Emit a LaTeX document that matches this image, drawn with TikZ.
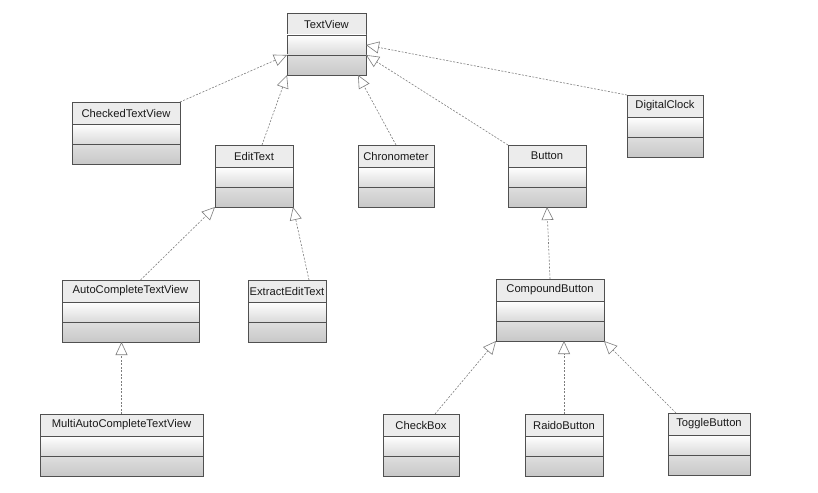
\documentclass[tikz,border=0pt]{standalone}
\usepackage{fontspec}
\setmainfont{Liberation Sans}
\usetikzlibrary{arrows.meta, positioning}
\definecolor{boxgray}{RGB}{80,80,80}
\definecolor{headfill}{RGB}{236,236,236}
\definecolor{midgray}{RGB}{218,218,218}
\definecolor{lowtop}{RGB}{222,222,222}
\definecolor{lowgray}{RGB}{200,200,200}
\definecolor{linegray}{RGB}{125,125,125}

% one class box: name, top left corner, width, label
\newcommand{\umlclass}[4]{%
	\node[classhead, minimum width=#3, anchor=north west] (#1) at (#2) {#4};
	\node[classmid, minimum width=#3, below=0pt of #1] (#1-m) {};
	\node[classlow, minimum width=#3, below=0pt of #1-m] (#1-b) {};
}

\begin{document}
\begin{tikzpicture}[
		x=1pt, y=-1pt,
		classhead/.style={draw=boxgray, fill=headfill, minimum height=22pt,
			inner sep=1pt, outer sep=0pt, text=black!90,
			font=\fontsize{11.2}{13}\selectfont},
		classmid/.style={draw=boxgray, top color=white, bottom color=midgray,
			minimum height=20pt, inner sep=0pt, outer sep=0pt},
		classlow/.style={draw=boxgray, top color=lowtop, bottom color=lowgray,
			minimum height=20pt, inner sep=0pt, outer sep=0pt},
		realize/.style={-{Triangle[open, length=13pt, width=12pt]}, draw=linegray,
			dash pattern=on 2pt off 1.5pt, semithick}
	]
		\useasboundingbox[fill=white] (0,0) rectangle (818,492);
		% top row
		\umlclass{tv}{287,13}{79pt}{TextView}
		\umlclass{ctv}{72,102}{108pt}{CheckedTextView}
		\umlclass{dc}{627,95}{76pt}{DigitalClock}
		% second row
		\umlclass{et}{215,145}{78pt}{EditText}
		\umlclass{chr}{358,145}{76pt}{Chronometer}
		\umlclass{btn}{508,145}{78pt}{Button}
		% third row
		\umlclass{act}{62,280}{137pt}{AutoCompleteTextView}
		\umlclass{eet}{248,280}{78pt}{ExtractEditText}
		\umlclass{cpb}{496,279}{108pt}{CompoundButton}
		% bottom row
		\umlclass{mact}{40,414}{163pt}{MultiAutoCompleteTextView}
		\umlclass{chk}{383,414}{76pt}{CheckBox}
		\umlclass{rb}{525,414}{78pt}{RaidoButton}
		\umlclass{tb}{668,413}{82pt}{ToggleButton}
		% inheritance
		\draw[realize] (ctv.north east) -- (tv-m.south west);
		\draw[realize] ([xshift=8pt]et.north) -- (tv-b.south west);
		\draw[realize] (chr.north) -- ([xshift=-8pt]tv-b.south east);
		\draw[realize] (btn.north west) -- (tv-b.north east);
		\draw[realize] (dc.north west) -- (tv-m.east);
		\draw[realize] ([xshift=10pt]act.north) -- (et-b.south west);
		\draw[realize] ([xshift=22pt]eet.north) -- (et-b.south east);
		\draw[realize] (cpb.north) -- (btn-b.south);
		\draw[realize] (mact.north) -- (mact.north |- act-b.south);
		\draw[realize] ([xshift=14pt]chk.north) -- (cpb-b.south west);
		\draw[realize] (rb.north) -- (rb.north |- cpb-b.south);
		\draw[realize] ([xshift=8pt]tb.north west) -- (cpb-b.south east);
	\end{tikzpicture}
\end{document}
